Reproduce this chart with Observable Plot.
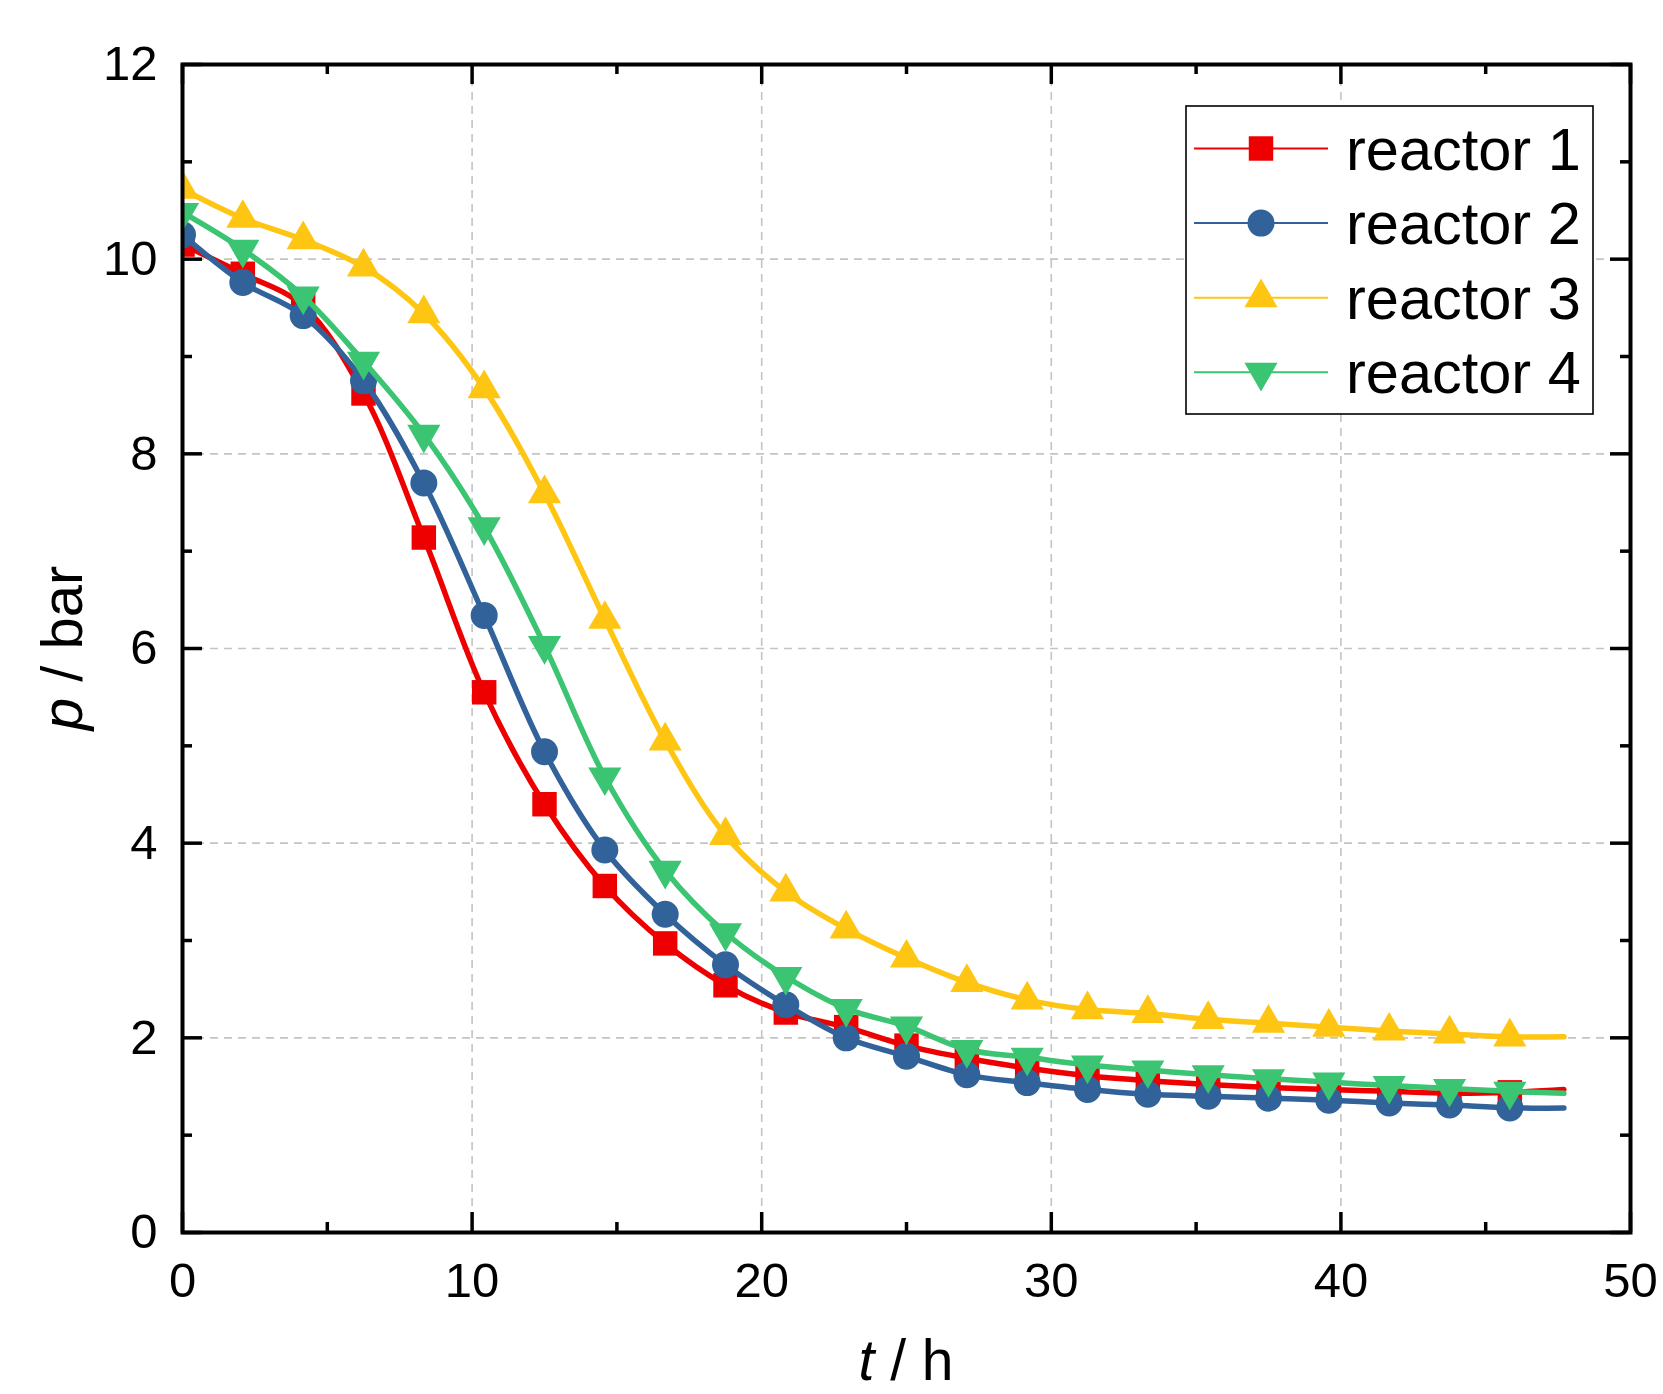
<!DOCTYPE html>
<html>
<head>
<meta charset="utf-8">
<script src="https://cdn.jsdelivr.net/npm/d3@7"></script>
<script src="https://cdn.jsdelivr.net/npm/@observablehq/plot@0.6"></script>
<style>
  body { margin: 0; background: #fff; }
  #chart { width: 1663px; height: 1394px; }
</style>
</head>
<body>
<div id="chart"></div>
<script>
// ---- data ----
const times = [0, 2.083, 4.167, 6.25, 8.333, 10.417, 12.5, 14.583, 16.667, 18.75, 20.833, 22.917,
               25, 27.083, 29.167, 31.25, 33.333, 35.417, 37.5, 39.583, 41.667, 43.75, 45.833, 47.7];
const markerCount = 23; // the last time has no marker
const reactor1 = [10.15, 9.85, 9.52, 8.62, 7.14, 5.55, 4.40, 3.56, 2.97, 2.54, 2.26, 2.11,
                  1.92, 1.79, 1.69, 1.61, 1.56, 1.52, 1.49, 1.47, 1.45, 1.43, 1.44, 1.47];
const reactor2 = [10.25, 9.76, 9.42, 8.75, 7.70, 6.34, 4.94, 3.93, 3.27, 2.75, 2.34, 2.00,
                  1.81, 1.62, 1.54, 1.47, 1.42, 1.40, 1.38, 1.36, 1.33, 1.31, 1.28, 1.28];
const reactor3 = [10.72, 10.42, 10.20, 9.92, 9.44, 8.67, 7.59, 6.30, 5.05, 4.08, 3.50, 3.12,
                  2.82, 2.57, 2.39, 2.29, 2.25, 2.19, 2.15, 2.11, 2.07, 2.04, 2.01, 2.01];
const reactor4 = [10.48, 10.10, 9.62, 8.95, 8.20, 7.25, 6.03, 4.68, 3.72, 3.08, 2.63, 2.30,
                  2.12, 1.88, 1.80, 1.72, 1.67, 1.62, 1.58, 1.545, 1.51, 1.48, 1.45, 1.43];

const seriesNames   = ["reactor 1", "reactor 2", "reactor 3", "reactor 4"];
const seriesValues  = [reactor1, reactor2, reactor3, reactor4];
const seriesColors  = ["#EE0000", "#31629A", "#FEC512", "#3BC472"];
const seriesSymbols = ["square", "circle", "triangle", "triangle"];
const seriesRotate  = [0, 0, 0, 180];
const seriesR       = [13.8, 13.5, 12.3, 12.3];

const xTicks = [0, 10, 20, 30, 40, 50];
const xMinorTicks = [5, 15, 25, 35, 45];
const xGrid = [10, 20, 30, 40];
const yTicks = [0, 2, 4, 6, 8, 10, 12];
const yMinorTicks = [1, 3, 5, 7, 9, 11];
const yGrid = [2, 4, 6, 8, 10];

// ---- layout ----
const W = 1663, H = 1394;
const mL = 182, mR = 33, mT = 64, mB = 162;
const plotW = W - mL - mR, plotH = H - mT - mB;
const FONT = "'Liberation Sans', Arial, Helvetica, sans-serif";

const rows = [];
seriesNames.forEach((name, s) => {
  times.forEach((t, i) => rows.push({series: name, s, i, t, p: seriesValues[s][i]}));
});

const seriesMarks = [];
seriesNames.forEach((name, s) => {
  const data = rows.filter(d => d.s === s);
  seriesMarks.push(Plot.line(data, {x: "t", y: "p", stroke: seriesColors[s], strokeWidth: 5.5,
                                     curve: "catmull-rom", clip: true}));
  seriesMarks.push(Plot.dot(data.filter(d => d.i < markerCount), {
    x: "t", y: "p", symbol: seriesSymbols[s], r: seriesR[s], fill: seriesColors[s],
    stroke: "none", rotate: seriesRotate[s], clip: true}));
});

const tickStyle = {stroke: "black", strokeWidth: 3.5};
const plot = Plot.plot({
  width: W, height: H,
  marginLeft: mL, marginRight: mR, marginTop: mT, marginBottom: mB,
  style: {fontFamily: FONT, background: "white", color: "black"},
  x: {domain: [0, 50]},
  y: {domain: [0, 12]},
  marks: [
    Plot.gridX(xGrid, {stroke: "#c4c4c4", strokeOpacity: 1, strokeWidth: 1.6, strokeDasharray: "8,6"}),
    Plot.gridY(yGrid, {stroke: "#c4c4c4", strokeOpacity: 1, strokeWidth: 1.6, strokeDasharray: "8,6"}),
    ...seriesMarks,
    // inward ticks on all four sides
    Plot.tickX(xTicks, {x: d => d, insetTop: plotH - 20, ...tickStyle}),
    Plot.tickX(xTicks, {x: d => d, insetBottom: plotH - 20, ...tickStyle}),
    Plot.tickX(xMinorTicks, {x: d => d, insetTop: plotH - 10, ...tickStyle}),
    Plot.tickX(xMinorTicks, {x: d => d, insetBottom: plotH - 10, ...tickStyle}),
    Plot.tickY(yTicks, {y: d => d, insetRight: plotW - 20, ...tickStyle}),
    Plot.tickY(yTicks, {y: d => d, insetLeft: plotW - 20, ...tickStyle}),
    Plot.tickY(yMinorTicks, {y: d => d, insetRight: plotW - 10, ...tickStyle}),
    Plot.tickY(yMinorTicks, {y: d => d, insetLeft: plotW - 10, ...tickStyle}),
    Plot.frame({stroke: "black", strokeWidth: 4}),
    Plot.axisX({ticks: xTicks, tickSize: 0, tickPadding: 30, fontSize: 49, label: null}),
    Plot.axisY({ticks: yTicks, tickSize: 0, tickPadding: 25, fontSize: 49, label: null})
  ]
});

document.getElementById("chart").appendChild(plot);

// ---- axis titles with italic symbols ----
const svg = d3.select(plot);
const xs = plot.scale("x"), ys = plot.scale("y");
const cx = (xs.apply(0) + xs.apply(50)) / 2;
const cy = (ys.apply(0) + ys.apply(12)) / 2;

const xt = svg.append("text").attr("x", cx).attr("y", 1380)
  .attr("text-anchor", "middle").attr("font-size", 57).attr("font-family", FONT).attr("fill", "black");
xt.append("tspan").attr("font-style", "italic").text("t");
xt.append("tspan").text(" / h");

const yt = svg.append("text").attr("transform", `translate(82,${cy}) rotate(-90)`)
  .attr("text-anchor", "middle").attr("font-size", 58).attr("font-family", FONT).attr("fill", "black");
yt.append("tspan").attr("font-style", "italic").text("p");
yt.append("tspan").text(" / bar");

// ---- legend ----
const lg = svg.append("g").attr("text-anchor", "start");
lg.append("rect").attr("x", 1186).attr("y", 106).attr("width", 407).attr("height", 308)
  .attr("fill", "white").attr("stroke", "black").attr("stroke-width", 1.6);
const symMap = {square: d3.symbolSquare, circle: d3.symbolCircle, triangle: d3.symbolTriangle};
seriesNames.forEach((name, s) => {
  const y = 148.5 + s * 74.6;
  lg.append("line").attr("x1", 1194).attr("x2", 1328).attr("y1", y).attr("y2", y)
    .attr("stroke", seriesColors[s]).attr("stroke-width", 2);
  lg.append("path")
    .attr("d", d3.symbol(symMap[seriesSymbols[s]], Math.PI * seriesR[s] * seriesR[s])())
    .attr("transform", `translate(1261,${y}) rotate(${seriesRotate[s]})`)
    .attr("fill", seriesColors[s]);
  lg.append("text").attr("x", 1346).attr("y", y + 21).attr("font-size", 59.5)
    .attr("text-anchor", "start")
    .attr("font-family", FONT).attr("fill", "black").text(name);
});
</script>
</body>
</html>
